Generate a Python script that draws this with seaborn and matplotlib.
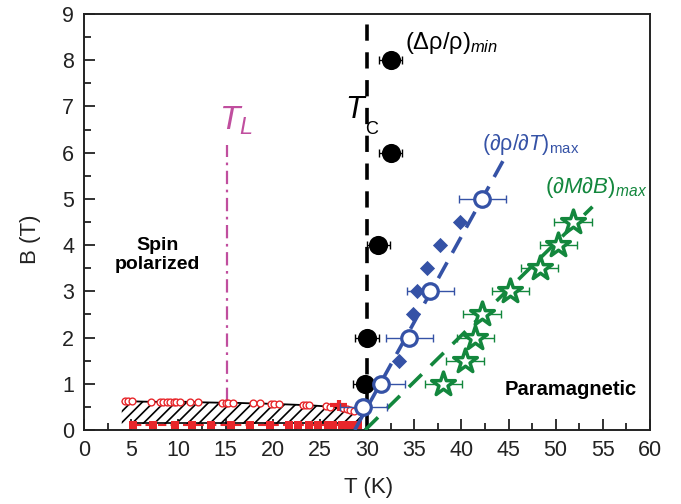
import numpy as np
import pandas as pd
import matplotlib
matplotlib.use("Agg")
import matplotlib.pyplot as plt
import seaborn as sns

# ---------------- data ----------------
# (Δρ/ρ)min : black filled circles
rho_min_T = [32.5, 32.5, 31.2, 30.0, 29.8]
rho_min_B = [8.0, 6.0, 4.0, 2.0, 1.0]
rho_min_err = [1.2, 1.2, 1.2, 1.3, 1.3]

# (∂ρ/∂T)max : blue open circles
drdT_T = [42.2, 36.7, 34.5, 31.5, 29.6]
drdT_B = [5.0, 3.0, 2.0, 1.0, 0.5]
drdT_err = [2.5, 2.5, 2.5, 2.5, 2.5]

# blue filled diamonds
dia_T = [39.9, 37.7, 36.4, 35.3, 34.9, 33.4, 31.6]
dia_B = [4.5, 4.0, 3.5, 3.0, 2.5, 1.5, 1.0]

# blue dashed guide line end points
blue_line_T = [28.7, 44.9]
blue_line_B = [0.0, 6.0]

# (∂M∂B)max : green open stars
dMdB_T = [38.1, 40.4, 41.5, 42.2, 45.2, 48.3, 50.3, 51.8]
dMdB_B = [1.0, 1.5, 2.0, 2.5, 3.0, 3.5, 4.0, 4.5]
dMdB_err = [2.0, 2.0, 2.0, 2.0, 2.0, 2.0, 2.0, 2.0]

# green dashed guide line end points
green_line_T = [29.8, 53.9]
green_line_B = [0.0, 4.83]

# red open circles (upper boundary of hatched region)
red_circ_T = [4.35, 4.7, 5.06, 7.1, 8.06, 8.4, 8.77, 9.1, 9.5, 9.8, 10.2, 11.2, 12.1,
              14.6, 15.0, 15.3, 15.8, 17.9, 18.7, 19.8, 20.1, 20.7, 23.2, 23.5, 23.9,
              25.7, 26.1, 27.5, 27.9, 28.2, 28.6]
red_circ_B = [0.62, 0.62, 0.62, 0.61, 0.61, 0.61, 0.61, 0.61, 0.61, 0.61, 0.61, 0.61, 0.60,
              0.59, 0.59, 0.59, 0.59, 0.575, 0.575, 0.565, 0.565, 0.56, 0.54, 0.54, 0.535,
              0.51, 0.505, 0.47, 0.45, 0.43, 0.41]

# red filled squares (lower boundary)
red_sq_T = [5.2, 7.3, 9.6, 11.5, 13.5, 15.6, 17.6, 19.7, 21.7, 22.7, 23.8, 24.8, 25.9, 26.4,
            27.3, 28.2, 29.0]
red_sq_B = [0.1] * 17

# hatched region
hatch_T = [4.0, 10.0, 15.0, 20.0, 25.7, 27.5, 28.6, 29.5]
hatch_top = [0.62, 0.61, 0.59, 0.565, 0.51, 0.47, 0.41, 0.36]
hatch_bot = [0.13, 0.13, 0.13, 0.13, 0.13, 0.13, 0.13, 0.13]

# characteristic temperatures
T_C = 30.0
T_L = 15.2
T_L_top = 6.17
T_L_bot = 0.62

# ---------------- styling ----------------
sns.set_theme(style="ticks")
plt.rcParams["font.family"] = ["Liberation Sans", "DejaVu Sans"]
plt.rcParams["mathtext.fontset"] = "custom"
plt.rcParams["mathtext.rm"] = "Liberation Sans"
plt.rcParams["mathtext.it"] = "Liberation Sans:italic"
plt.rcParams["mathtext.bf"] = "Liberation Sans:bold"
plt.rcParams["hatch.linewidth"] = 1.2

BLUE = "#3552a6"
GREEN = "#13873d"
RED = "#e8262a"
MAG = "#c04e9e"
DARK = "#222222"

fig = plt.figure(figsize=(6.81, 5.04), dpi=100)
ax = fig.add_axes([84 / 681, 1 - 430 / 504, 566 / 681, 416 / 504])

# hatched region
ax.fill_between(hatch_T, hatch_bot, hatch_top, facecolor="none", edgecolor="black",
                hatch="///", linewidth=0, zorder=1)

# lower boundary lines
ax.plot([5.0, 29.0], [0.15, 0.15], color="black", lw=1.2, zorder=2)
sns.lineplot(x=red_sq_T, y=red_sq_B, ax=ax, color=RED, lw=1.5, linestyle=(0, (4, 2)),
             sort=False, estimator=None, zorder=2)
sns.scatterplot(x=red_sq_T, y=red_sq_B, ax=ax, marker="s", s=32, color=RED,
                edgecolor=RED, linewidth=0, zorder=3)

# upper boundary
sns.lineplot(x=red_circ_T, y=red_circ_B, ax=ax, color="black", lw=1.3, sort=False,
             estimator=None, zorder=2)
sns.scatterplot(x=red_circ_T, y=red_circ_B, ax=ax, marker="o", s=24, facecolor="white",
                edgecolor=RED, linewidth=1.0, zorder=3)
ax.errorbar([27.0], [0.55], yerr=[[0.13], [0.1]], xerr=[[0.9], [0.9]], fmt="none",
            ecolor=RED, elinewidth=3, capsize=0, zorder=3)

# T_C dashed line
ax.plot([T_C, T_C], [0, 9], color="black", lw=2.6, linestyle=(0, (4.5, 3.2)), zorder=4)

# T_L dash-dot line
ax.plot([T_L, T_L], [T_L_bot, T_L_top], color=MAG, lw=1.6,
        linestyle=(0, (6, 2.5, 1.2, 2.5)), zorder=2)

# guide lines
sns.lineplot(x=blue_line_T, y=blue_line_B, ax=ax, color=BLUE, lw=2.6,
             linestyle=(0, (5, 3)), estimator=None, zorder=4)
sns.lineplot(x=green_line_T, y=green_line_B, ax=ax, color=GREEN, lw=2.6,
             linestyle=(0, (5, 3.5)), estimator=None, zorder=4)

# error bars
ax.errorbar(rho_min_T, rho_min_B, xerr=rho_min_err, fmt="none", ecolor="black",
            elinewidth=1.0, capsize=3, zorder=5)
ax.errorbar(drdT_T, drdT_B, xerr=drdT_err, fmt="none", ecolor=BLUE,
            elinewidth=1.0, capsize=3, zorder=5)
ax.errorbar(dMdB_T, dMdB_B, xerr=dMdB_err, fmt="none", ecolor=GREEN,
            elinewidth=1.0, capsize=3, zorder=5)

# markers
sns.scatterplot(x=dia_T, y=dia_B, ax=ax, marker="D", s=60, color=BLUE, edgecolor=BLUE,
                linewidth=0, zorder=6)
sns.scatterplot(x=rho_min_T, y=rho_min_B, ax=ax, marker="o", s=190, color="black",
                edgecolor="black", linewidth=0, zorder=6)
sns.scatterplot(x=drdT_T, y=drdT_B, ax=ax, marker="o", s=125, facecolor="white",
                edgecolor=BLUE, linewidth=2.3, zorder=7)
sns.scatterplot(x=dMdB_T, y=dMdB_B, ax=ax, marker="*", s=320, facecolor="white",
                edgecolor=GREEN, linewidth=2.5, zorder=7)

# ---------------- texts ----------------
ax.text(34.0, 8.25, r"$\mathregular{(\Delta\rho/\rho)}_{\mathit{min}}$", fontsize=17,
        color="black", ha="left", va="baseline", zorder=8)
ax.text(42.2, 6.05, r"$\mathregular{(\partial\rho/\partial}\mathit{T}\mathregular{)}_{\mathregular{max}}$",
        fontsize=15.5, color=BLUE, ha="left", va="baseline", zorder=8)
ax.text(48.9, 5.13, r"$\mathregular{(\partial}\mathit{M}\mathregular{\partial}\mathit{B}\mathregular{)}_{\mathit{max}}$",
        fontsize=16, color=GREEN, ha="left", va="baseline", zorder=8)
ax.text(14.3, 6.49, r"$T_L$", fontsize=24, color=MAG, ha="left", va="baseline", zorder=8)
ax.text(27.7, 6.75, r"$T$", fontsize=22, color="black", ha="left",
        va="baseline", zorder=8)
ax.text(29.8, 6.68, "C", fontsize=13, color="black", ha="left", va="top", zorder=8)
ax.text(7.8, 3.79, "Spin\npolarized", fontsize=14, fontweight="bold", color="black",
        ha="center", va="center", multialignment="center", linespacing=1.15, zorder=8)
ax.text(51.6, 0.87, "Paramagnetic", fontsize=14.5, fontweight="bold", color="black",
        ha="center", va="center", zorder=8)

# ---------------- axes ----------------
ax.set_xlim(0, 60)
ax.set_ylim(0, 9)
ax.set_xticks(np.arange(0, 61, 5))
ax.set_yticks(np.arange(0, 10, 1))
ax.set_xticks(np.arange(0, 60.1, 2.5), minor=True)
ax.set_yticks(np.arange(0, 9.01, 0.5), minor=True)
ax.tick_params(which="both", direction="in", color=DARK, width=1.3, labelsize=15.5,
               labelcolor=DARK, top=False, right=False)
ax.tick_params(which="major", length=8, pad=7)
ax.tick_params(which="minor", length=5)
for sp in ax.spines.values():
    sp.set_linewidth(1.4)
    sp.set_color(DARK)
    sp.set_visible(True)

ax.set_xlabel("T (K)", fontsize=16, color=DARK)
ax.set_ylabel("B (T)", fontsize=16, color=DARK)
ax.xaxis.set_label_coords(0.503, -0.113)
ax.yaxis.set_label_coords(-0.076, 0.459)

fig.savefig("out.png", dpi=100)
